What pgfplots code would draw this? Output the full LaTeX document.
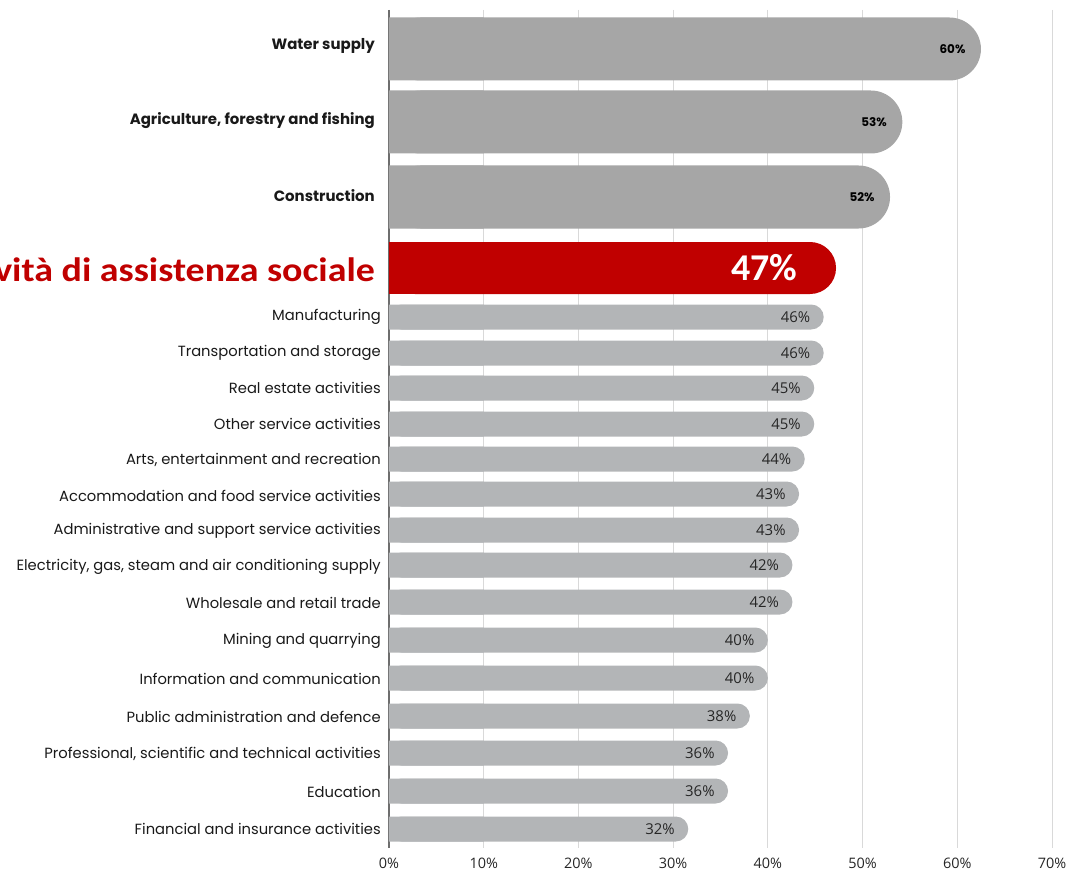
\documentclass[border=0pt]{standalone}
\usepackage{pgfplots}
\pgfplotsset{compat=1.18}
\usepackage{pgfplotstable}
\usepackage{fontspec}
\setmainfont{Open Sans}
\newfontfamily\catfont{Poppins}
\newfontfamily\redfont{Carlito}[FakeStretch=1.12]
\newfontfamily\pctfont{Carlito}
\definecolor{biggray}{HTML}{A6A6A6}
\definecolor{smallgray}{HTML}{B3B5B7}
\definecolor{barred}{HTML}{C00000}
\definecolor{gridgray}{HTML}{D9D9D9}
\definecolor{axisgray}{HTML}{6E6E6E}
\newcommand\smallcat{\catfont\fontsize{14.8}{17}\selectfont}
\newcommand\bigcat{\catfont\bfseries\fontsize{15}{17}\selectfont}

% y = vertical position of the bar, v = bar length, lab = printed value
\pgfplotstableread{
y v lab
49 62.5 60
122 54.2 53
197 52.9 52
}\bigdata
\pgfplotstableread{
y v lab
268 47.2 47
}\reddata
\pgfplotstableread{
y v lab
317 45.9 46
353 45.9 46
388 44.9 45
424 44.9 45
459 43.9 44
494 43.3 43
530 43.3 43
565 42.6 42
602 42.6 42
640 40.0 40
678 40.0 40
716 38.1 38
753 35.8 36
791 35.8 36
829 31.6 32
}\smalldata

\begin{document}
\begin{tikzpicture}
\useasboundingbox (-389bp,-25bp) rectangle (680bp,848bp);
\begin{axis}[
  at={(0,0)}, anchor=south west,
  scale only axis, width=663bp, height=838bp,
  xmin=0, xmax=70, ymin=10, ymax=848, y dir=reverse,
  xtick={0,10,...,70},
  xticklabel={\pgfmathprintnumber{\tick}\%},
  /pgf/number format/assume math mode=true,
  xticklabel style={font=\fontsize{14.5}{16}\selectfont, text=black!85, yshift=-6bp},
  xmajorgrids, grid style={draw=gridgray, line width=0.9bp},
  major tick length=0pt,
  axis lines*=left,
  x axis line style={draw=none},
  y axis line style={-, draw=axisgray, line width=1.6bp},
  ytick={46,121,196,270,317,353,388,424,460,496,531,567,603,641,679,717,754,792,829},
  yticklabels={
    {\bigcat Water supply\kern6bp},
    {\bigcat Agriculture, forestry and fishing\kern6bp},
    {\bigcat Construction\kern6bp},
    {\redfont\bfseries\fontsize{34}{38}\selectfont\color{barred}Attività di assistenza sociale\kern6bp},
    Manufacturing,
    Transportation and storage,
    Real estate activities,
    Other service activities,
    {Arts, entertainment and recreation},
    Accommodation and food service activities,
    Administrative and support service activities,
    {Electricity, gas, steam and air conditioning supply},
    Wholesale and retail trade,
    Mining and quarrying,
    Information and communication,
    Public administration and defence,
    {Professional, scientific and technical activities},
    Education,
    Financial and insurance activities},
  yticklabel style={font=\smallcat, anchor=east, inner sep=0pt, xshift=-8bp, text=black!90},
  point meta=explicit symbolic,
]
% big gray bars (left part square, right end rounded)
\addplot[xbar, bar shift=0pt, bar width=63, fill=biggray, draw=none]
  table[x expr=10, y=y]{\bigdata};
\addplot[xbar, bar shift=0pt, bar width=63, fill=biggray, draw=none, rounded corners=31.5bp,
  nodes near coords={\pgfplotspointmeta\%},
  every node near coord/.append style={anchor=east, xshift=-12bp, font=\catfont\bfseries\fontsize{12}{14}\selectfont, text=black}]
  table[x=v, y=y, meta=lab]{\bigdata};
% red bar
\addplot[xbar, bar shift=0pt, bar width=52, fill=barred, draw=none]
  table[x expr=10, y=y]{\reddata};
\addplot[xbar, bar shift=0pt, bar width=52, fill=barred, draw=none, rounded corners=26bp,
  nodes near coords={\pgfplotspointmeta\%},
  every node near coord/.append style={anchor=east, xshift=-35bp, font=\pctfont\bfseries\fontsize{38}{40}\selectfont, text=white}]
  table[x=v, y=y, meta=lab]{\reddata};
% small gray bars
\addplot[xbar, bar shift=0pt, bar width=25, fill=smallgray, draw=none]
  table[x expr=10, y=y]{\smalldata};
\addplot[xbar, bar shift=0pt, bar width=25, fill=smallgray, draw=none, rounded corners=12.5bp,
  nodes near coords={\pgfplotspointmeta\%},
  every node near coord/.append style={anchor=east, xshift=-10bp, font=\fontsize{15}{17}\selectfont, text=black!85}]
  table[x=v, y=y, meta=lab]{\smalldata};
\end{axis}
\end{tikzpicture}
\end{document}
